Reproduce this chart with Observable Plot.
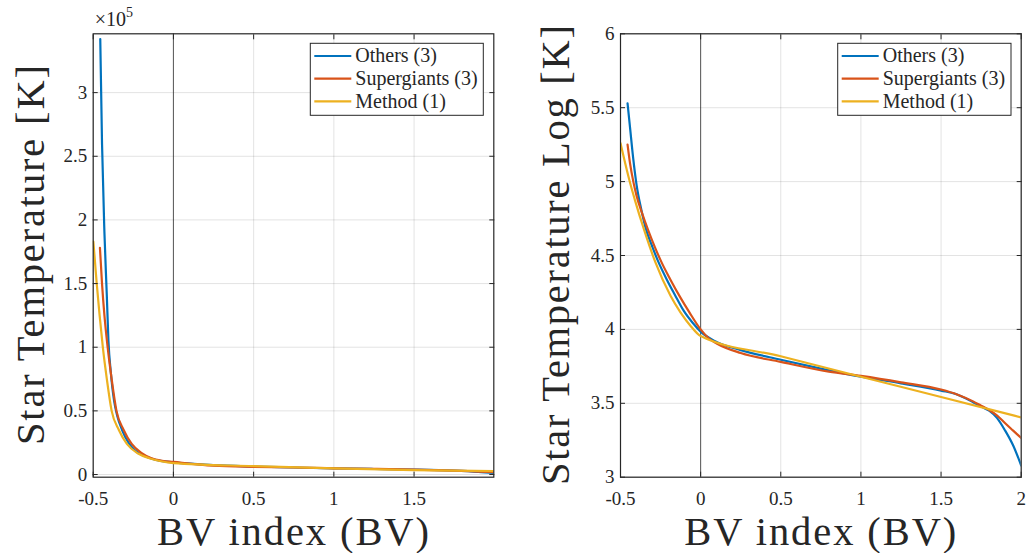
<!DOCTYPE html>
<html><head><meta charset="utf-8">
<script src="https://cdn.jsdelivr.net/npm/d3@7"></script>
<script src="https://cdn.jsdelivr.net/npm/@observablehq/plot@0.6"></script>
<style>
body{margin:0;background:#fff;}
#wrap{position:relative;width:1027px;height:553px;overflow:hidden;background:#fff;}
#wrap svg{position:absolute;top:0;}
</style></head><body><div id="wrap"></div>
<script>
// ---------- data ----------
const seriesNames = ["Others (3)", "Supergiants (3)", "Method (1)"];
const seriesColors = ["#0072BD", "#D95319", "#EDB120"];

const xTicksLeft = [-0.5, 0, 0.5, 1, 1.5];
const yTicksLeft = [0, 50000, 100000, 150000, 200000, 250000, 300000];
const xTicksRight = [-0.5, 0, 0.5, 1, 1.5, 2];
const yTicksRight = [3, 3.5, 4, 4.5, 5, 5.5, 6];

const xLabel = "BV index (BV)";
const yLabelLeft = "Star Temperature [K]";
const yLabelRight = "Star Temperature Log [K]";

// Left panel: [BV, temperature K]
const othersK = [[-0.456,342000],[-0.445,260000],[-0.43,190000],[-0.415,140000],[-0.405,105000],[-0.39,80000],[-0.37,58000],[-0.35,46000],[-0.32,35000],[-0.28,25000],[-0.24,19000],[-0.18,14500],[-0.12,11800],[-0.06,10300],[0,9500],[0.25,7400],[0.5,6300],[0.75,5500],[1.0,4800],[1.25,4350],[1.5,3850],[1.75,3000],[1.9,2100],[2.0,1200]];
const supergiantsK = [[-0.458,178000],[-0.445,150000],[-0.43,125000],[-0.41,100000],[-0.385,75000],[-0.355,50000],[-0.31,35000],[-0.26,24000],[-0.2,17000],[-0.14,13000],[-0.07,10800],[0,9900],[0.25,7000],[0.5,6000],[0.75,5500],[1.0,4900],[1.25,4400],[1.5,3900],[1.75,3050],[1.9,2300],[2.0,1850]];
const methodK = [[-0.499,183000],[-0.478,150000],[-0.46,125000],[-0.44,100000],[-0.415,75000],[-0.385,50000],[-0.34,35000],[-0.29,24000],[-0.22,16500],[-0.15,12800],[-0.07,10200],[0,9000],[0.5,6600],[1.0,4800],[1.5,3500],[2.0,2700]];

// Right panel: [BV, log10 temperature]
const othersLog = [[-0.456,5.53],[-0.44,5.36],[-0.42,5.15],[-0.40,4.98],[-0.37,4.81],[-0.343,4.685],[-0.30,4.555],[-0.265,4.46],[-0.21,4.335],[-0.161,4.235],[-0.105,4.125],[-0.05,4.045],[0,3.985],[0.09,3.92],[0.25,3.86],[0.5,3.795],[0.75,3.735],[1.0,3.68],[1.25,3.635],[1.5,3.586],[1.6,3.56],[1.7,3.507],[1.75,3.478],[1.8,3.45],[1.85,3.40],[1.9,3.315],[1.95,3.214],[2.0,3.079]];
const supergiantsLog = [[-0.456,5.25],[-0.44,5.12],[-0.42,5.0],[-0.40,4.905],[-0.365,4.785],[-0.327,4.67],[-0.285,4.555],[-0.24,4.445],[-0.19,4.34],[-0.126,4.215],[-0.07,4.115],[0,4.0],[0.05,3.94],[0.1,3.905],[0.25,3.84],[0.5,3.78],[0.8,3.714],[1.0,3.685],[1.25,3.642],[1.5,3.593],[1.6,3.56],[1.7,3.513],[1.75,3.484],[1.8,3.455],[1.85,3.417],[1.9,3.365],[1.95,3.315],[2.0,3.265]];
const methodLog = [[-0.5,5.26],[-0.47,5.12],[-0.44,4.99],[-0.41,4.875],[-0.354,4.678],[-0.282,4.453],[-0.188,4.227],[-0.126,4.115],[-0.06,4.02],[0,3.955],[0.5,3.818],[1.0,3.68],[1.5,3.543],[2.0,3.405]];

// ---------- drawing ----------
const FONT = "'Liberation Serif', 'DejaVu Serif', serif";
const INK = "#262626";

function panel({left, width, plotLeft, plotRight, xDomain, yDomain, xTicks, yTicks, yFmt, series, yLabel, yLabelX, yLabelLen, legendBox, exponent}) {
  const top = 33.3, bottom = 476.7, H = 553;
  const mL = plotLeft - left, mR = left + width - plotRight;
  const marks = [
    Plot.gridX(xTicks, {stroke: INK, strokeOpacity: 0.13, strokeWidth: 1}),
    Plot.gridY(yTicks, {stroke: INK, strokeOpacity: 0.13, strokeWidth: 1}),
    Plot.ruleX([0], {stroke: INK, strokeOpacity: 0.75, strokeWidth: 1})
  ];
  series.forEach((s, i) => {
    marks.push(Plot.line(s, {x: d => d[0], y: d => d[1], stroke: seriesColors[i], strokeWidth: 2.2, curve: "monotone-x", clip: true}));
  });
  marks.push(
    Plot.axisX(xTicks, {anchor: "bottom", tickSize: -5, tickPadding: 19, tickFormat: d => String(d), fontSize: 19, label: null, stroke: INK}),
    Plot.axisX(xTicks, {anchor: "top", tickSize: -5, tickFormat: () => "", label: null, stroke: INK}),
    Plot.axisY(yTicks, {anchor: "left", tickSize: -5, tickPadding: 11, tickFormat: yFmt, fontSize: 19, label: null, stroke: INK}),
    Plot.axisY(yTicks, {anchor: "right", tickSize: -5, tickFormat: () => "", label: null, stroke: INK}),
    Plot.frame({stroke: INK, strokeWidth: 1.2})
  );
  const svg = Plot.plot({
    width, height: H,
    marginLeft: mL, marginRight: mR, marginTop: top, marginBottom: H - bottom,
    x: {domain: xDomain, label: null},
    y: {domain: yDomain, label: null},
    style: {fontFamily: FONT, fontSize: "19px", color: INK, background: "white", overflow: "visible"},
    marks
  });
  svg.style.left = left + "px";
  const g = d3.select(svg);
  const cx = (plotLeft + plotRight) / 2 - left;
  g.append("text").attr("x", cx).attr("y", 545).attr("text-anchor", "middle")
    .attr("font-family", FONT).attr("font-size", 40.5).attr("fill", INK)
    .attr("textLength", 272).attr("lengthAdjust", "spacing").text(xLabel);
  g.append("text").attr("transform", `translate(${yLabelX - left},255) rotate(-90)`).attr("text-anchor", "middle")
    .attr("font-family", FONT).attr("font-size", 40.5).attr("fill", INK)
    .attr("textLength", yLabelLen).attr("lengthAdjust", "spacing").text(yLabel);
  if (exponent) {
    const t = g.append("text").attr("x", plotLeft - left + 2).attr("y", 26).attr("text-anchor", "start")
      .attr("font-family", FONT).attr("font-size", 20).attr("fill", INK);
    t.append("tspan").text("\u00d710");
    t.append("tspan").attr("font-size", 14).attr("dy", -9).text(exponent);
  }
  // legend
  const [bx0, by0, bx1, by1] = legendBox;
  const lg = g.append("g").attr("transform", `translate(${bx0 - left},${by0})`);
  lg.append("rect").attr("x", 0).attr("y", 0).attr("width", bx1 - bx0).attr("height", by1 - by0)
    .attr("fill", "white").attr("stroke", INK).attr("stroke-width", 1);
  seriesNames.forEach((name, i) => {
    const base = 19 + i * 22.7;
    lg.append("line").attr("x1", 4).attr("x2", 41).attr("y1", base - 6.3).attr("y2", base - 6.3)
      .attr("stroke", seriesColors[i]).attr("stroke-width", 2.2);
    lg.append("text").attr("x", 45).attr("y", base).attr("text-anchor", "start").attr("font-family", FONT).attr("font-size", 20)
      .attr("fill", INK).text(name);
  });
  document.getElementById("wrap").appendChild(svg);
}

panel({
  left: 0, width: 510, plotLeft: 92.7, plotRight: 493.3,
  xDomain: [-0.5, 1.997], yDomain: [-2100, 346200],
  xTicks: xTicksLeft, yTicks: yTicksLeft, yFmt: d => String(d / 100000),
  series: [othersK, supergiantsK, methodK],
  yLabel: yLabelLeft, yLabelX: 44, yLabelLen: 380, legendBox: [310.3, 43.3, 483.3, 115.3], exponent: "5"
});
panel({
  left: 517, width: 510, plotLeft: 620, plotRight: 1020.7,
  xDomain: [-0.5, 2], yDomain: [3, 6],
  xTicks: xTicksRight, yTicks: yTicksRight, yFmt: d => String(d),
  series: [othersLog, supergiantsLog, methodLog],
  yLabel: yLabelRight, yLabelX: 569, yLabelLen: 460, legendBox: [837.7, 43.3, 1011, 115.3], exponent: null
});
</script></body></html>
